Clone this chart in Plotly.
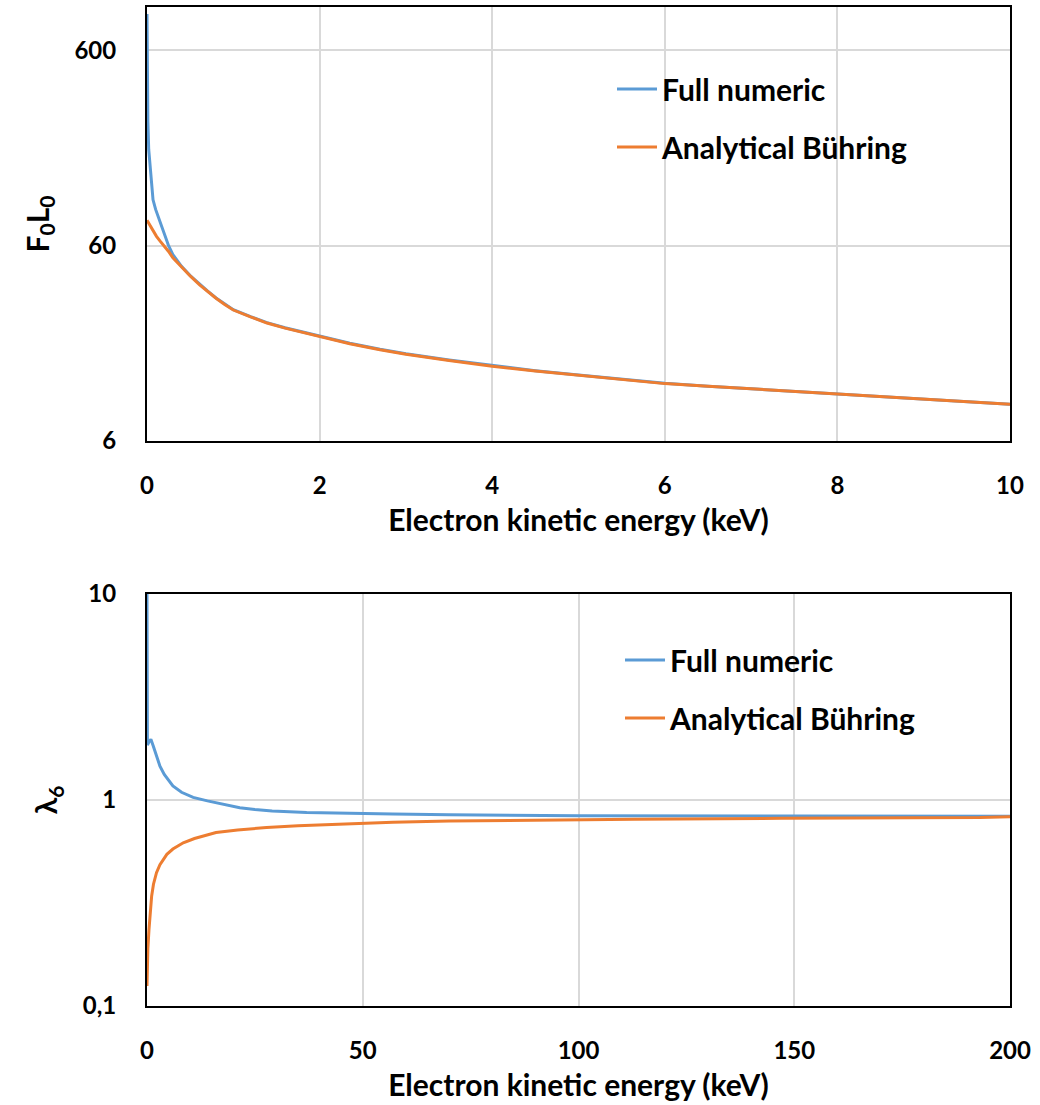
import plotly.graph_objects as go
import math

# --- F0L0 versus electron kinetic energy (0-10 keV) ---
e_low_numeric = [0.0, 0.005, 0.01, 0.02, 0.035, 0.05, 0.07, 0.1, 0.13, 0.19, 0.25, 0.3, 0.4, 0.5,
                 0.61, 0.7, 0.8, 0.9, 1.0, 1.2, 1.39, 1.6, 1.77, 2.0, 2.35, 2.7, 3.0, 3.5,
                 4.0, 4.5, 5.0, 5.5, 6.0, 6.5, 7.0, 7.5, 8.0, 8.5, 9.0, 9.5, 10.0]
f0l0_numeric = [920, 450, 260, 186, 153, 124, 103, 92, 84, 70, 60, 54, 47, 42.2,
                38.0, 35.2, 32.4, 30.2, 28.2, 26.0, 24.2, 22.8, 21.9, 20.6, 19.0, 17.7, 16.8, 15.6,
                14.6, 13.75, 13.05, 12.45, 11.85, 11.45, 11.1, 10.75, 10.4, 10.1, 9.8, 9.5, 9.25]

e_low_analytic = [0.0, 0.05, 0.11, 0.15, 0.19, 0.25, 0.3, 0.4, 0.5, 0.61, 0.7, 0.8, 0.9,
                  1.0, 1.2, 1.39, 1.6, 1.77, 2.0, 2.35, 2.7, 3.0, 3.5, 4.0, 4.5, 5.0, 5.5,
                  6.0, 6.5, 7.0, 7.5, 8.0, 8.5, 9.0, 9.5, 10.0]
f0l0_analytic = [81, 74, 67, 63.5, 60.5, 56, 52, 46.5, 42, 37.8, 35, 32.3, 30,
                 28.1, 25.9, 24.1, 22.7, 21.8, 20.5, 18.9, 17.6, 16.7, 15.5, 14.5, 13.7, 13.0, 12.4,
                 11.8, 11.45, 11.1, 10.75, 10.4, 10.1, 9.8, 9.5, 9.25]

# --- lambda6 versus electron kinetic energy (0-200 keV) ---
e_high_numeric = [0.0, 0.1, 0.5, 0.9, 1.45, 2.2, 3.0, 4.0, 6.0, 8.0, 10.7, 14.0, 18.0,
                  21.5, 25.0, 29.0, 37.0, 45.0, 57.0, 70.0, 86.0, 100.0, 150.0, 200.0]
lambda6_numeric = [10.0, 1.85, 1.92, 1.97, 1.83, 1.64, 1.46, 1.33, 1.17, 1.09, 1.03, 0.99, 0.95,
                   0.918, 0.90, 0.885, 0.87, 0.862, 0.855, 0.848, 0.844, 0.838, 0.836, 0.835]

e_high_analytic = [0.0, 0.1, 0.2, 0.46, 0.7, 1.08, 1.5, 2.2, 3.0, 4.6, 6.0, 8.4, 11.0,
                   16.0, 21.0, 27.7, 35.0, 43.0, 57.0, 70.0, 86.0, 113.0, 147.0, 193.0, 200.0]
lambda6_analytic = [0.125, 0.16, 0.19, 0.235, 0.28, 0.342, 0.39, 0.444, 0.485, 0.545, 0.578, 0.62, 0.65,
                    0.695, 0.715, 0.735, 0.75, 0.762, 0.78, 0.79, 0.797, 0.806, 0.815, 0.822, 0.83]

series_names = ["Full numeric", "Analytical Bühring"]
top_y_ticks = [6, 60, 600]
top_y_labels = ["6", "60", "600"]
bottom_y_ticks = [0.1, 1, 10]
bottom_y_labels = ["0,1", "1", "10"]

BLUE = "#5B9BD5"
ORANGE = "#ED7D31"
FONT = "Lato"
W, H = 1040, 1105

fig = go.Figure()

fig.add_trace(go.Scatter(x=e_low_numeric, y=f0l0_numeric, mode="lines", name=series_names[0],
                         line=dict(color=BLUE, width=3), xaxis="x", yaxis="y",
                         legend="legend", legendgroup="a1"))
fig.add_trace(go.Scatter(x=e_low_analytic, y=f0l0_analytic, mode="lines", name=series_names[1],
                         line=dict(color=ORANGE, width=3), xaxis="x", yaxis="y",
                         legend="legend", legendgroup="a2"))
fig.add_trace(go.Scatter(x=e_high_numeric, y=lambda6_numeric, mode="lines", name=series_names[0],
                         line=dict(color=BLUE, width=3), xaxis="x2", yaxis="y2",
                         legend="legend2", legendgroup="b1"))
fig.add_trace(go.Scatter(x=e_high_analytic, y=lambda6_analytic, mode="lines", name=series_names[1],
                         line=dict(color=ORANGE, width=3), xaxis="x2", yaxis="y2",
                         legend="legend2", legendgroup="b2"))

x_dom = [147 / W, 1010 / W]
top_dom = [1 - 441 / H, 1 - 7 / H]
bot_dom = [1 - 1006 / H, 1 - 594 / H]

tick_font = dict(family=FONT, size=24, color="black", weight="bold")
title_font = dict(family=FONT, size=30, color="black", weight="bold")
ytitle_font = dict(family=FONT, size=30, color="black", weight="bold")

common_x = dict(showline=True, linecolor="black", linewidth=2, mirror=True,
                showgrid=True, gridcolor="#d9d9d9", gridwidth=2, zeroline=False,
                ticks="", tickfont=tick_font, ticklabelstandoff=22, automargin=False)
common_y = dict(type="log", showline=True, linecolor="black", linewidth=2, mirror=True,
                showgrid=True, gridcolor="#d9d9d9", gridwidth=2, zeroline=False,
                ticks="", tickfont=tick_font, ticklabelstandoff=24, automargin=False)

legend_common = dict(font=dict(family=FONT, size=30, color="black", weight="bold"),
                     bgcolor="rgba(0,0,0,0)", tracegroupgap=16, itemwidth=40,
                     xanchor="left", yanchor="top", traceorder="grouped")

fig.update_layout(
    width=W, height=H,
    margin=dict(l=0, r=0, t=0, b=0, autoexpand=False),
    paper_bgcolor="white", plot_bgcolor="white",
    xaxis=dict(domain=x_dom, anchor="y", range=[0, 10], dtick=2,
               title=dict(text="Electron kinetic energy (keV)", font=title_font, standoff=12),
               **common_x),
    yaxis=dict(domain=top_dom, anchor="x", range=[math.log10(6), 3],
               tickvals=top_y_ticks, ticktext=top_y_labels,
               title=dict(text="F<sub>0</sub>L<sub>0</sub>", font=ytitle_font, standoff=16),
               **common_y),
    xaxis2=dict(domain=x_dom, anchor="y2", range=[0, 200], dtick=50,
                title=dict(text="Electron kinetic energy (keV)", font=title_font, standoff=12),
                **common_x),
    yaxis2=dict(domain=bot_dom, anchor="x2", range=[-1, 1],
                tickvals=bottom_y_ticks, ticktext=bottom_y_labels,
                title=dict(text="λ<sub>6</sub>", font=ytitle_font, standoff=16),
                **common_y),
    legend=dict(x=612 / W, y=1 - 63 / H, **legend_common),
    legend2=dict(x=620 / W, y=1 - 634 / H, **legend_common),
)

fig.write_html("out.html")
